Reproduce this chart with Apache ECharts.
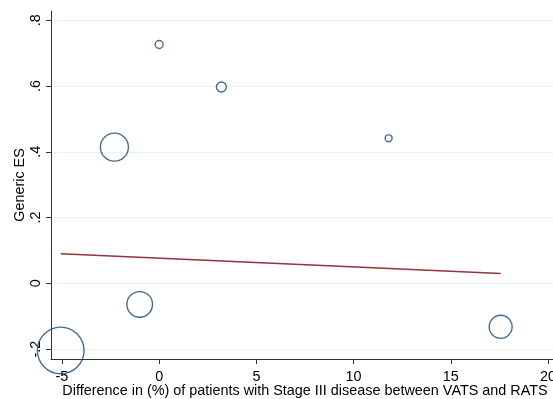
<!DOCTYPE html>
<html>
<head>
<meta charset="utf-8">
<script src="https://cdn.jsdelivr.net/npm/echarts@6/dist/echarts.min.js"></script>
<style>html,body{margin:0;padding:0;background:#fff;}#c{width:553px;height:399px;}</style>
</head>
<body>
<div id="c"></div>
<script>
// Study-level points
const diffX = [0.0, 3.2, 11.8, -2.3, -5.06, -1.0, 17.56];
const genericES = [0.726, 0.597, 0.441, 0.414, -0.204, -0.064, -0.132];
const weights = [16, 25, 12, 196, 543, 164, 132];
// Fitted meta-regression line endpoints
const fitX = [-5.06, 17.56];
const fitY = [0.090, 0.030];
// Ticks
const xTicks = [-5, 0, 5, 10, 15, 20];
const yTicks = [-0.2, 0, 0.2, 0.4, 0.6, 0.8];
const yTickLabels = ['-.2', '0', '.2', '.4', '.6', '.8'];

const font = 'Liberation Sans, Arial, sans-serif';
const chart = echarts.init(document.getElementById('c'));
chart.setOption({
  animation: false,
  backgroundColor: '#ffffff',
  grid: { left: 51, top: 11, bottom: 40, right: -6, containLabel: false, outerBoundsMode: 'none' },
  xAxis: {
    type: 'value', min: -5.56, max: 20.56,
    name: 'Difference in (%) of patients with Stage III disease between VATS and RATS',
    nameLocation: 'middle', nameGap: 25, nameMoveOverlap: false,
    nameTextStyle: { color: '#000', fontSize: 14.4, fontFamily: font },
    axisLine: { show: true, onZero: false, lineStyle: { color: '#333', width: 1 } },
    axisTick: { show: true, length: 5, lineStyle: { color: '#333' }, customValues: xTicks },
    axisLabel: { color: '#000', fontSize: 14.4, fontFamily: font, margin: 11, customValues: xTicks },
    splitLine: { show: false }
  },
  yAxis: {
    type: 'value', min: -0.23, max: 0.828,
    name: 'Generic ES', nameLocation: 'middle', nameGap: 24, nameMoveOverlap: false,
    nameTextStyle: { color: '#000', fontSize: 14.4, fontFamily: font },
    axisLine: { show: true, onZero: false, lineStyle: { color: '#333', width: 1 } },
    axisTick: { show: true, length: 5, lineStyle: { color: '#333' }, customValues: yTicks },
    axisLabel: {
      color: '#000', fontSize: 14.4, fontFamily: font, margin: 8, rotate: 90,
      customValues: yTicks,
      formatter: function (v) {
        const i = yTicks.findIndex(t => Math.abs(t - v) < 1e-9);
        return i >= 0 ? yTickLabels[i] : '';
      }
    },
    splitLine: { show: true, lineStyle: { color: '#eaf2f3', width: 1 } }
  },
  series: [
    {
      type: 'scatter', clip: false,
      data: diffX.map((x, i) => [x, genericES[i], weights[i]]),
      symbol: 'circle',
      symbolSize: function (d) { return 2 * Math.sqrt(d[2]); },
      itemStyle: { color: 'rgba(0,0,0,0)', borderColor: '#1a476f', borderWidth: 1.4 },
      emphasis: { disabled: true }
    },
    {
      type: 'line', data: fitX.map((x, i) => [x, fitY[i]]),
      symbol: 'none', lineStyle: { color: '#90353b', width: 1.5 }
    }
  ]
});
</script>
</body>
</html>
